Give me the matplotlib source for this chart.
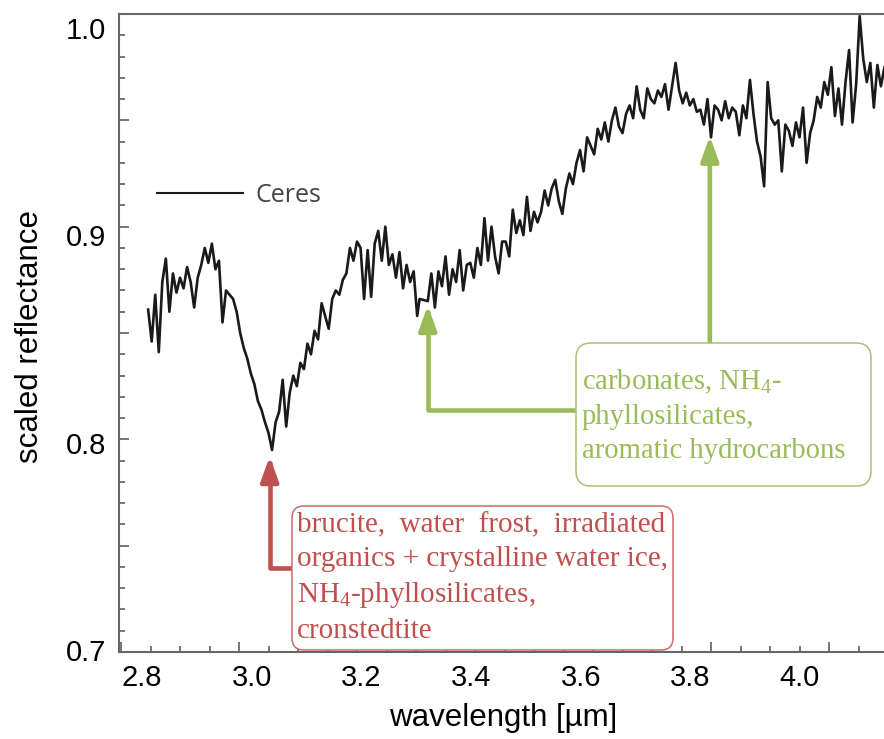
import matplotlib.pyplot as plt
from matplotlib.patches import FancyBboxPatch
from matplotlib.ticker import MultipleLocator
from matplotlib import transforms

plt.rcParams['mathtext.fontset'] = 'custom'
plt.rcParams['mathtext.rm'] = 'Liberation Serif'
plt.rcParams['mathtext.it'] = 'Liberation Serif:italic'

# Ceres spectrum (wavelength in micron, scaled reflectance)
wavelength = [
    2.846, 2.852, 2.858, 2.864, 2.870, 2.876, 2.882, 2.888, 2.894, 2.900,
    2.906, 2.912, 2.918, 2.924, 2.930, 2.936, 2.942, 2.948, 2.954, 2.960,
    2.966, 2.972, 2.978, 2.984, 2.990, 2.996, 3.002, 3.008, 3.014, 3.020,
    3.026, 3.032, 3.038, 3.044, 3.050, 3.056, 3.062, 3.068, 3.074, 3.080,
    3.086, 3.092, 3.098, 3.104, 3.110, 3.116, 3.122, 3.128, 3.134, 3.140,
    3.146, 3.152, 3.158, 3.164, 3.170, 3.176, 3.182, 3.188, 3.194, 3.200,
    3.206, 3.212, 3.218, 3.224, 3.230, 3.236, 3.242, 3.248, 3.254, 3.260,
    3.266, 3.272, 3.278, 3.284, 3.290, 3.296, 3.302, 3.306, 3.320, 3.326,
    3.332, 3.338, 3.344, 3.350, 3.356, 3.362, 3.368, 3.374, 3.380, 3.386,
    3.392, 3.398, 3.404, 3.410, 3.416, 3.422, 3.428, 3.434, 3.440, 3.446,
    3.452, 3.458, 3.464, 3.470, 3.476, 3.482, 3.488, 3.494, 3.500, 3.506,
    3.512, 3.518, 3.524, 3.530, 3.536, 3.542, 3.548, 3.554, 3.560, 3.566,
    3.572, 3.578, 3.584, 3.590, 3.596, 3.602, 3.608, 3.614, 3.620, 3.626,
    3.632, 3.638, 3.644, 3.650, 3.656, 3.662, 3.668, 3.674, 3.680, 3.686,
    3.692, 3.698, 3.704, 3.710, 3.716, 3.722, 3.728, 3.734, 3.740, 3.746,
    3.752, 3.758, 3.764, 3.770, 3.776, 3.782, 3.788, 3.794, 3.800, 3.806,
    3.812, 3.818, 3.824, 3.830, 3.836, 3.842, 3.848, 3.854, 3.860, 3.866,
    3.872, 3.878, 3.884, 3.890, 3.896, 3.902, 3.908, 3.914, 3.920, 3.926,
    3.932, 3.938, 3.944, 3.950, 3.956, 3.962, 3.968, 3.974, 3.980, 3.986,
    3.992, 3.998, 4.004, 4.010, 4.016, 4.022, 4.028, 4.034, 4.040, 4.046,
    4.052, 4.058, 4.064, 4.070, 4.076, 4.082, 4.088, 4.094,
]
reflectance = [
    0.861, 0.846, 0.868, 0.841, 0.874, 0.885, 0.860, 0.878, 0.869, 0.876,
    0.871, 0.881, 0.874, 0.862, 0.876, 0.882, 0.890, 0.883, 0.892, 0.880,
    0.884, 0.855, 0.870, 0.868, 0.866, 0.860, 0.850, 0.843, 0.838, 0.831,
    0.826, 0.818, 0.814, 0.808, 0.803, 0.795, 0.808, 0.813, 0.828, 0.806,
    0.822, 0.830, 0.825, 0.836, 0.833, 0.845, 0.840, 0.851, 0.847, 0.864,
    0.858, 0.852, 0.866, 0.870, 0.868, 0.875, 0.878, 0.890, 0.884, 0.893,
    0.890, 0.866, 0.889, 0.867, 0.892, 0.898, 0.884, 0.900, 0.882, 0.887,
    0.876, 0.888, 0.871, 0.882, 0.874, 0.879, 0.858, 0.866, 0.865, 0.878,
    0.862, 0.879, 0.872, 0.886, 0.868, 0.880, 0.874, 0.889, 0.870, 0.882,
    0.883, 0.876, 0.890, 0.882, 0.904, 0.884, 0.900, 0.886, 0.878, 0.893,
    0.893, 0.886, 0.908, 0.897, 0.903, 0.896, 0.914, 0.898, 0.907, 0.902,
    0.907, 0.917, 0.910, 0.918, 0.922, 0.912, 0.906, 0.918, 0.925, 0.920,
    0.930, 0.936, 0.926, 0.942, 0.938, 0.934, 0.946, 0.941, 0.949, 0.940,
    0.950, 0.956, 0.947, 0.944, 0.953, 0.957, 0.951, 0.966, 0.955, 0.951,
    0.965, 0.960, 0.958, 0.964, 0.961, 0.967, 0.955, 0.966, 0.977, 0.964,
    0.958, 0.963, 0.957, 0.960, 0.954, 0.955, 0.948, 0.960, 0.942, 0.957,
    0.955, 0.950, 0.959, 0.951, 0.956, 0.954, 0.943, 0.957, 0.951, 0.969,
    0.953, 0.940, 0.933, 0.919, 0.968, 0.951, 0.948, 0.950, 0.926, 0.948,
    0.945, 0.938, 0.949, 0.942, 0.956, 0.930, 0.944, 0.950, 0.961, 0.956,
    0.968, 0.962, 0.975, 0.952, 0.965, 0.948, 0.968, 0.983, 0.949, 0.967,
    0.999, 0.979, 0.968, 0.977, 0.956, 0.976, 0.966, 0.975,
]

x_tick_values = [2.8, 3.0, 3.2, 3.4, 3.6, 3.8, 4.0]
y_tick_values = [0.7, 0.8, 0.9, 1.0]

# absorption features marked on the spectrum
red_band = (3.052, 0.792)
green_bands = [(3.320, 0.863), (3.798, 0.9426)]

red_note = ("brucite,  water  frost,  irradiated\n"
            "organics + crystalline water ice,\n"
            r"NH$_\mathrm{4}$-phyllosilicates," "\n"
            "cronstedtite")
green_note = (r"carbonates, NH$_\mathrm{4}$-" "\n"
              "phyllosilicates,\n"
              "aromatic hydrocarbons")

red = '#c0504d'
green = '#9bbb59'

fig = plt.figure(figsize=(8.84, 7.39), dpi=100)
rect = [119 / 884, 87 / 739, 765 / 884, 638 / 739]
ax = fig.add_axes(rect)

ax.plot(wavelength, reflectance, color='#1a1a1a', lw=1.9, label='Ceres')
ax.set_xlim(2.7966, 4.0932)
ax.set_ylim(0.7, 1.0)

ax.xaxis.set_major_locator(MultipleLocator(0.2))
ax.xaxis.set_minor_locator(MultipleLocator(0.05))
ax.yaxis.set_major_locator(MultipleLocator(0.05))
ax.yaxis.set_minor_locator(MultipleLocator(0.01))
ax.tick_params(which='both', direction='in', color='#5e5e5e', width=1.2,
               labelbottom=False, labelleft=False)
ax.tick_params(which='major', length=7.5)
ax.tick_params(which='minor', length=4.5)
for side in ['left', 'bottom', 'top']:
    ax.spines[side].set_color('#666666')
    ax.spines[side].set_linewidth(1.5)
ax.spines['right'].set_visible(False)

# tick labels sit on their own transparent layer
lab = fig.add_axes(rect, frameon=False)
lab.set_xlim(2.758, 4.1533)
lab.set_ylim(0.699, 1.00675)
lab.set_xticks(x_tick_values)
lab.set_xticklabels([f'{v:.1f}' for v in x_tick_values])
lab.set_yticks(y_tick_values)
lab.set_yticklabels([f'{v:.1f}' for v in y_tick_values])
lab.tick_params(length=0, labelsize=21, pad=9)
for t in lab.get_xticklabels() + lab.get_yticklabels():
    t.set_fontfamily('Liberation Sans')
lab.patch.set_visible(False)

fig.text(30 / 884, 1 - 337 / 739, 'scaled reflectance', rotation=90,
         ha='center', va='center', fontsize=22.5, family='Liberation Sans')
fig.text(503 / 884, 1 - 718 / 739, 'wavelength [µm]',
         ha='center', va='center', fontsize=22.5, family='Liberation Sans')

leg = ax.legend(loc='center left', bbox_to_anchor=(0.0497, 0.7163),
                frameon=False, borderaxespad=0, borderpad=0,
                handlelength=3.44, handletextpad=0.48,
                prop={'family': 'Open Sans', 'size': 18})
for t in leg.get_texts():
    t.set_color('#444444')
for h in leg.get_lines():
    h.set_linewidth(1.5)

inch = fig.dpi_scale_trans

# note boxes
ax.add_artist(FancyBboxPatch((2.92, 0.89), 3.81, 1.44,
                             boxstyle='round,pad=0,rounding_size=0.12',
                             transform=inch, fc='white', ec='#cd6a66', lw=1.1,
                             zorder=5))
ax.add_artist(FancyBboxPatch((5.76, 2.53), 2.95, 1.43,
                             boxstyle='round,pad=0,rounding_size=0.15',
                             transform=inch, fc='white', ec='#a6c46c', lw=1.1,
                             zorder=5))

# baseline of the last line of each note
fig.text(2.97, (739 - 638) / 100, red_note, transform=inch, color=red,
         family='Liberation Serif', fontsize=21, va='baseline', ha='left',
         linespacing=1.38, zorder=6)
fig.text(5.82, (739 - 458) / 100, green_note, transform=inch, color=green,
         family='Liberation Serif', fontsize=20.6, va='baseline', ha='left',
         linespacing=1.4, zorder=6)

head = '-|>,head_length=0.75,head_width=0.27'
ax.annotate('', xy=red_band, xycoords='data',
            xytext=(2.92, (739 - 568) / 100), textcoords=inch,
            arrowprops=dict(arrowstyle=head, color=red, lw=3.3,
                            mutation_scale=20, shrinkA=0, shrinkB=0,
                            connectionstyle='angle,angleA=0,angleB=90,rad=0'))
ax.annotate('', xy=green_bands[0], xycoords='data',
            xytext=(5.77, (739 - 410) / 100), textcoords=inch,
            arrowprops=dict(arrowstyle=head, color=green, lw=3.3,
                            mutation_scale=20, shrinkA=0, shrinkB=0,
                            connectionstyle='angle,angleA=0,angleB=90,rad=0'))
up = transforms.blended_transform_factory(ax.transData, inch)
ax.annotate('', xy=green_bands[1], xycoords='data',
            xytext=(green_bands[1][0], (739 - 343) / 100), textcoords=up,
            arrowprops=dict(arrowstyle=head, color=green, lw=3.3,
                            mutation_scale=20, shrinkA=0, shrinkB=0))

fig.savefig('out.png', dpi=100)
